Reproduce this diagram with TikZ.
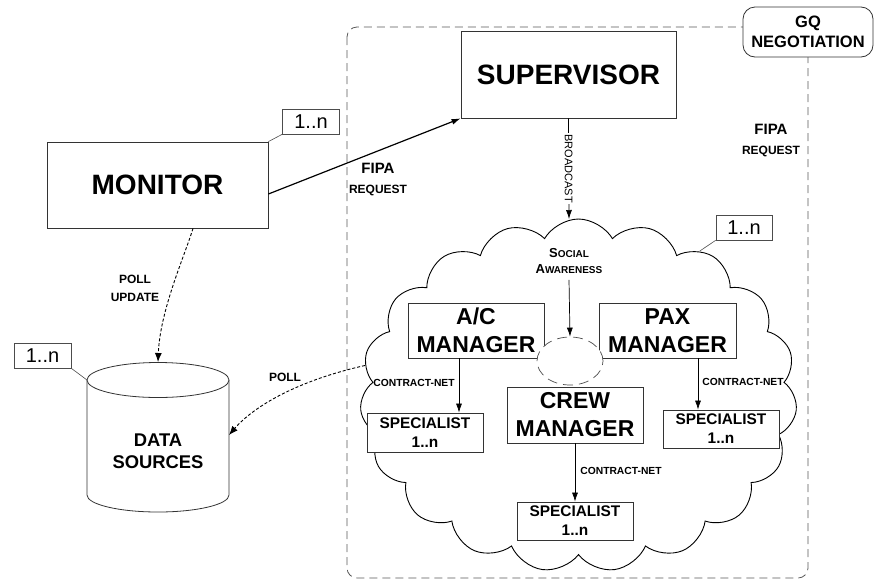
\documentclass[tikz,border=0pt]{standalone}
\usepackage{fontspec}
\setmainfont{Liberation Sans}
\usetikzlibrary{arrows.meta,calc,positioning,shapes.geometric,shapes.symbols}
\newcommand{\fsz}[2]{\fontsize{#1}{#2}\selectfont}

\begin{document}
\begin{tikzpicture}[x=1pt,y=1pt,
  box/.style={draw=black!80,line width=0.8pt,fill=white,align=center,inner sep=1pt},
  tagbox/.style={draw=black!70,line width=0.6pt,fill=white,minimum width=57pt,minimum height=25pt,inner sep=0pt,font=\fsz{20}{22}},
  lbl/.style={font=\bfseries\fsz{10.3}{12},inner sep=1pt,align=center},
  flow/.style={-{Latex[length=9pt,width=6pt]},line width=0.7pt},
  poll/.style={-{Latex[length=9pt,width=7pt]},line width=0.9pt,dash pattern=on 3pt off 2pt}]
  \useasboundingbox (0,0) rectangle (878,-582);

  % negotiation area
  \draw[black!65,line width=0.8pt,dash pattern=on 8pt off 5pt,rounded corners=10pt] (347,-27) rectangle (808,-578);
  \node[box,rounded corners=12pt,minimum width=130pt,minimum height=50pt,font=\bfseries\fsz{16.5}{20}] (gq) at (808,-32) {GQ\\NEGOTIATION};
  \node[lbl,font=\bfseries\fsz{12}{20}] (fipaR) at (771,-141) {{\fsz{15}{20}FIPA}\\REQUEST};

  \node[box,minimum width=215pt,minimum height=87pt,font=\bfseries\fsz{28}{30}] (sup) at (568.5,-74.5) {SUPERVISOR};
  \node[box,minimum width=221pt,minimum height=86pt,font=\bfseries\fsz{28}{30}] (mon) at (157.5,-185) {MONITOR};
  \node[tagbox] (monT) at (311,-121.5) {1..n};
  \draw[black!70,line width=0.6pt] (mon.north east) -- (monT.south west);
  \draw[flow,line width=1.2pt] ([yshift=-9pt]mon.east) -- (sup.south west);
  \node[lbl,font=\bfseries\fsz{12}{20}] (fipaL) at (378,-180) {{\fsz{15}{20}FIPA}\\REQUEST};

  % managers cloud
  \node[cloud,draw=black,line width=0.9pt,cloud puffs=19,cloud puff arc=120,aspect=1.24,
        minimum width=437pt,minimum height=353pt,inner sep=0pt] (cloud) at (578.5,-395.5) {};
  \node[tagbox,minimum width=56pt] (cldT) at (744,-227.5) {1..n};
  \draw[black!70,line width=0.6pt] (cloud.50) -- (cldT.south west);
  \coordinate (cldtop) at (569,-219);
  \draw[flow] (sup.south) -- node[rotate=-90,fill=white,inner sep=1pt,font=\fsz{11}{12}] {BROADCAST} (cldtop);

  \node[font=\bfseries\fsz{10}{16},align=center,inner sep=1pt] (soc) at (569,-261) {{\fsz{13}{16}S}OCIAL\\{\fsz{13}{16}A}WARENESS};
  \node[box,minimum width=136pt,minimum height=55pt,font=\bfseries\fsz{23}{28}] (acm) at (476,-330.5) {A/C\\MANAGER};
  \node[box,minimum width=137pt,minimum height=55pt,font=\bfseries\fsz{23}{28}] (pax) at (667.5,-330.5) {PAX\\MANAGER};
  \node[box,minimum width=136pt,minimum height=56pt,font=\bfseries\fsz{23}{28}] (crew) at (575,-415) {CREW\\MANAGER};
  \node[draw=black!70,dash pattern=on 10pt off 6pt,line width=0.7pt,ellipse,fill=white,minimum width=66pt,minimum height=48pt] (ell) at (570,-361) {};
  \draw[flow] ([yshift=-5pt]soc.south) -- (ell.north);

  \node[box,minimum width=116pt,minimum height=39pt,font=\bfseries\fsz{15.4}{19}] (spL) at (425,-432.5) {SPECIALIST\\1..n};
  \node[box,minimum width=116pt,minimum height=38pt,font=\bfseries\fsz{15.4}{19}] (spR) at (721,-429) {SPECIALIST\\1..n};
  \node[box,minimum width=116pt,minimum height=38pt,font=\bfseries\fsz{15.4}{19}] (spB) at (575,-521) {SPECIALIST\\1..n};
  \draw[flow] ([xshift=-17pt]acm.south) -- ([xshift=-17pt]acm.south |- spL.north);
  \draw[flow] ([xshift=30.5pt]pax.south) -- ([xshift=30.5pt]pax.south |- spR.north);
  \draw[flow] (crew.south) -- (spB.north);
  \node[lbl] (cnL) at (414,-383) {CONTRACT-NET};
  \node[lbl] (cnR) at (743,-382) {CONTRACT-NET};
  \node[lbl] (cnB) at (621,-471) {CONTRACT-NET};

  % data sources
  \draw[black!80,line width=0.8pt,fill=white] (87,-380) -- (87,-495) arc[start angle=180,end angle=360,x radius=71,y radius=17] -- (229,-380);
  \draw[black!80,line width=0.8pt,fill=white] (158,-380) ellipse[x radius=71,y radius=17.5];
  \node[font=\bfseries\fsz{18.4}{22},align=center] (data) at (158,-451) {DATA\\SOURCES};
  \coordinate (dstop) at (158,-362);
  \coordinate (dsright) at (229,-435);
  \coordinate (dscorner) at (87,-380);
  \node[tagbox] (dsT) at (42.5,-355.5) {1..n};
  \draw[black!70,line width=0.6pt] (dsT.south east) -- (dscorner);

  \draw[poll] ([xshift=35.5pt]mon.south) .. controls (185,-255) and (160,-310) .. (dstop);
  \node[lbl,font=\bfseries\fsz{12}{18}] (pollU) at (135,-288) {POLL\\UPDATE};
  \draw[poll] (cloud.172) .. controls (300,-380) and (255,-405) .. (dsright);
  \node[lbl,font=\bfseries\fsz{12}{14}] (pollC) at (285,-377) {POLL};
\end{tikzpicture}
\end{document}
